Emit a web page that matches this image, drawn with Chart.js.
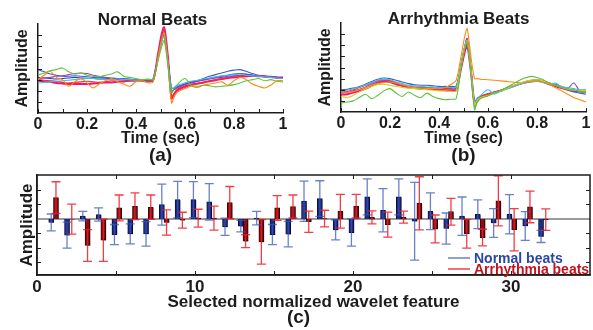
<!DOCTYPE html>
<html>
<head>
<meta charset="utf-8">
<script src="https://cdn.jsdelivr.net/npm/chart.js@4.4.1/dist/chart.umd.min.js"></script>
<style>
    body { margin: 0; background: #fff; }
    #wrap { position: relative; width: 593px; height: 330px; }
    canvas { position: absolute; }
</style>
</head>
<body>
<div id="wrap">
    <canvas id="normalChart" width="296" height="165" style="left:0;top:0;width:296px;height:165px"></canvas>
    <canvas id="arrhChart" width="297" height="165" style="left:296px;top:0;width:297px;height:165px"></canvas>
    <canvas id="featChart" width="593" height="165" style="left:0;top:165px;width:593px;height:165px"></canvas>
</div>
<script>
// time axis of one beat (sec), finer around the QRS spike
const timeSec = [0, 0.025, 0.05, 0.075, 0.1, 0.125, 0.15, 0.175, 0.2, 0.225,
    0.25, 0.275, 0.3, 0.325, 0.35, 0.375, 0.4, 0.425, 0.45, 0.47,
    0.49, 0.505, 0.515, 0.53, 0.545, 0.555, 0.57, 0.6, 0.625, 0.65,
    0.675, 0.7, 0.725, 0.75, 0.775, 0.8, 0.825, 0.85, 0.875, 0.9,
    0.925, 0.95, 0.975, 1.0];
const timeTicks = [0, 0.1, 0.2, 0.3, 0.4, 0.5, 0.6, 0.7, 0.8, 0.9, 1];
const ampTicks = [1, 2, 3, 4, 5, 6, 7];

// (a) normal beats
const normalBlue = [3.9,3.7,3.5,3.4,3.3,3.3,3.35,3.3,3.25,3.2, 3.2,3.15,3.1,3.1,3.05,3.0,3.0,2.95,2.9,2.95, 5.0,6.5,7.1,4.8,2.3,2.2,2.4,2.6,2.8,2.9, 3.1,3.3,3.45,3.6,3.75,3.85,3.9,3.75,3.55,3.4, 3.3,3.2,3.15,3.1];
const normalRed = [3.0,2.95,2.9,2.85,2.75,2.7,2.75,2.8,2.85,2.8, 2.75,2.8,2.9,2.85,2.8,2.9,2.95,2.85,2.8,2.9, 5.2,7.0,7.6,5.0,1.4,1.7,2.0,2.3,2.5,2.6, 2.7,2.9,3.0,3.1,3.2,3.3,3.35,3.4,3.3,3.35, 3.2,3.25,3.15,3.1];
const normalGreen = [3.4,3.6,3.8,3.9,4.05,3.7,3.5,3.6,3.4,3.3, 3.25,3.4,3.5,3.7,3.3,3.2,3.1,3.0,3.05,3.0, 4.7,6.0,6.5,4.3,1.8,2.2,2.6,3.1,2.5,2.4, 2.5,2.45,2.35,2.4,2.45,2.55,2.7,2.9,3.0,3.1, 2.9,3.0,2.85,2.8];
const normalOrange = [3.0,3.4,3.75,3.2,3.0,2.4,2.8,3.1,2.7,2.25, 2.6,2.9,3.1,2.8,2.6,2.4,2.8,2.9,2.7,2.8, 5.0,6.6,7.2,4.6,0.9,1.4,1.9,2.2,2.4,2.3, 2.5,2.6,2.7,2.8,2.5,2.9,3.2,3.0,2.6,2.4, 2.25,2.5,2.9,2.9];
const normalPurple = [3.1,3.15,3.2,3.3,3.35,3.45,3.55,3.6,3.55,3.4, 3.3,3.2,3.15,3.1,3.1,3.05,3.0,3.0,3.0,3.0, 5.0,6.7,7.3,4.9,2.0,2.1,2.3,2.55,2.7,2.85, 2.95,3.05,3.15,3.2,3.3,3.35,3.4,3.45,3.4,3.35, 3.3,3.25,3.2,3.15];
const normalCyan = [2.7,2.75,2.8,2.85,2.9,2.95,3.0,3.05,3.1,3.1, 3.05,3.0,3.0,3.05,3.0,3.0,2.95,3.0,3.0,3.05, 4.9,6.4,6.9,4.6,2.2,2.3,2.5,2.7,2.85,2.95, 3.05,3.15,3.25,3.35,3.4,3.45,3.5,3.4,3.35,3.3, 3.25,3.2,3.15,3.1];
const normalNavy = [3.2,3.15,3.1,3.05,3.1,3.15,3.2,3.15,3.1,3.1, 3.05,3.05,3.1,3.0,3.0,2.95,2.95,2.9,2.9,2.9, 4.9,6.5,7.0,4.7,1.9,2.1,2.3,2.6,2.75,2.85, 3.0,3.1,3.2,3.3,3.4,3.5,3.55,3.5,3.4,3.35, 3.3,3.25,3.2,3.15];
const normalMagenta = [2.9,2.85,2.8,2.7,2.65,2.6,2.6,2.6,2.6,2.65, 2.7,2.75,2.75,2.8,2.85,2.9,2.9,2.95,2.95,3.0, 5.3,7.1,7.7,5.1,1.3,1.7,2.1,2.4,2.55,2.65, 2.75,2.85,2.95,3.05,3.15,3.2,3.25,3.3,3.35,3.3, 3.3,3.25,3.2,3.2];

// (b) arrhythmia beats
const arrhBlue = [2.0,2.05,2.15,2.3,2.5,2.75,2.95,3.05,3.0,2.85, 2.7,2.55,2.45,2.4,2.4,2.35,2.3,2.3,2.3,2.35, 4.3,5.9,6.6,4.0,0.8,1.2,1.4,1.6,1.75,1.9, 2.1,2.3,2.5,2.7,2.85,2.9,2.8,2.6,2.4,2.2, 2.0,1.8,1.7,1.6];
const arrhOrange = [1.7,1.75,1.85,2.0,2.2,2.4,2.55,2.65,2.7,2.6, 2.45,2.3,2.2,2.15,2.1,2.1,2.1,2.2,2.5,2.85, 5.0,6.8,7.5,5.0,3.0,3.0,2.95,2.9,2.85,2.8, 2.75,2.7,2.65,2.7,2.75,2.8,2.7,2.5,2.2,1.9, 1.6,1.3,1.1,0.9];
const arrhGreen = [0.8,0.9,1.0,1.3,1.6,1.2,1.5,1.9,2.1,1.7, 1.4,1.8,1.5,1.3,1.7,1.4,1.2,1.1,1.15,1.2, 4.0,5.7,6.3,3.6,0.2,0.8,1.2,1.45,1.7,1.9, 2.2,2.5,2.8,3.05,3.2,3.1,2.9,2.6,2.4,2.2, 2.1,2.0,1.85,1.7];
const arrhLime = [1.4,1.3,1.5,1.8,2.1,2.3,2.45,2.5,2.4,2.3, 2.2,2.15,2.1,2.05,2.0,1.95,1.9,1.9,1.85,1.9, 4.1,5.8,6.4,3.8,0.6,1.0,1.3,1.5,1.7,1.9, 2.1,2.35,2.55,2.75,2.85,2.9,2.8,2.6,2.4,2.2, 2.05,1.95,1.9,1.9];
const arrhPurple = [1.7,1.75,1.9,2.05,2.25,2.5,2.7,2.85,2.8,2.6, 2.45,2.3,2.2,2.2,2.15,2.15,2.1,2.1,2.05,2.1, 4.3,5.9,6.6,4.0,0.5,0.9,1.3,1.6,1.75,1.9, 2.1,2.3,2.5,2.7,2.8,2.85,2.75,2.6,2.5,2.3, 2.1,2.6,1.9,1.8];
const arrhCyan = [1.9,1.95,2.1,2.25,2.45,2.65,2.85,2.95,2.9,2.7, 2.55,2.4,2.35,2.3,2.25,2.25,2.2,2.2,2.2,2.25, 4.2,5.8,6.4,3.9,0.7,1.2,1.5,2.0,1.6,1.85, 2.05,2.25,2.45,2.6,2.7,2.75,2.65,2.5,2.6,2.3, 2.2,2.1,2.0,2.05];
const arrhRed = [1.8,1.85,2.0,2.2,2.4,2.6,2.8,2.9,2.8,2.6, 2.4,2.3,2.25,2.2,2.2,2.15,2.1,2.1,2.1,2.15, 4.1,5.7,6.3,3.8,0.6,1.0,1.4,1.65,1.8,1.95, 2.15,2.35,2.5,2.65,2.75,2.8,2.75,2.55,2.35,2.2, 2.05,1.95,1.9,1.85];
const arrhMagenta = [1.55,1.6,1.75,1.9,2.1,2.35,2.6,2.75,2.7,2.5, 2.35,2.2,2.15,2.1,2.1,2.05,2.0,1.95,1.9,1.95, 3.9,5.4,6.0,3.7,0.8,1.1,1.35,1.55,1.75,1.9, 2.1,2.3,2.5,2.65,2.75,2.8,2.7,2.5,2.3,2.15, 2.0,1.9,1.85,1.8];

// (c) wavelet features: mean and spread per feature
const featureIdx = [1,2,3,4,5,6,7,8,9,10,11,12,13,14,15,16,17,18,19,20,21,22,23,24,25,26,27,28,29,30,31,32];
const normalMean = [-0.25,-1.13,0.19,0.3,-1.09,-1.04,-1.04,0.99,1.34,1.34,1.18,-0.55,-0.5,0.05,-1.09,-1.06,1.23,1.41,-0.76,-0.95,1.53,0.6,1.53,-0.16,0.53,-0.67,0.19,0.32,-0.28,0.32,-0.49,-1.22];
const normalErr = [0.59,0.9,0.33,0.46,0.7,0.7,0.85,1.42,1.27,1.25,1.27,0.6,0.4,0.47,0.7,0.88,1.4,1.24,0.7,0.95,1.25,1.5,1.25,2.7,1.28,1.08,1.33,1.0,1.0,1.36,1.0,0.42];
const arrhMean = [1.48,-0.02,-1.85,-1.48,0.76,0.88,0.81,-0.25,-0.09,0.05,0.05,1.13,-1.55,-1.6,0.76,0.86,-0.2,0.02,0.53,0.88,0.1,-0.4,0.12,1.08,-0.7,0.5,-1.03,-1.3,1.25,-0.75,0.83,-0.05];
const arrhErr = [1.1,1.04,1.1,1.47,0.9,0.93,0.85,0.88,0.55,0.62,0.83,1.12,0.45,1.55,0.86,0.8,0.74,0.58,1.17,0.82,0.45,0.87,0.42,1.85,0.97,0.93,1.0,0.58,1.74,1.47,1.1,0.75];
const featTicksX = [5, 10, 15, 20, 25, 30];
const featTicksY = [-3, -2, -1, 1, 2];

const FONT = '"Liberation Sans", Arial, sans-serif';
const INK = "#1c1c1c";
Chart.defaults.font.family = FONT;
Chart.defaults.color = INK;

const inwardTicks = {
    id: "inwardTicks",
    afterDraw(chart, args, opts) {
        const { ctx, chartArea: area, scales } = chart;
        const len = opts.length;
        ctx.save();
        ctx.strokeStyle = INK;
        ctx.lineWidth = 1;
        ctx.beginPath();
        opts.xValues.forEach(v => {
            const px = Math.round(scales.x.getPixelForValue(v)) + 0.5;
            ctx.moveTo(px, area.bottom);
            ctx.lineTo(px, area.bottom - len);
            if (opts.box) {
                ctx.moveTo(px, area.top);
                ctx.lineTo(px, area.top + len);
            }
        });
        opts.yValues.forEach(v => {
            const py = Math.round(scales.y.getPixelForValue(v)) + 0.5;
            ctx.moveTo(area.left, py);
            ctx.lineTo(area.left + len, py);
            if (opts.box) {
                ctx.moveTo(area.right, py);
                ctx.lineTo(area.right - len, py);
            }
        });
        ctx.stroke();
        if (opts.box) {
            ctx.lineWidth = 1.5;
            ctx.strokeRect(area.left, area.top, area.right - area.left, area.bottom - area.top);
        }
        ctx.restore();
    },
};

const panelText = {
    id: "panelText",
    afterDraw(chart, args, opts) {
        const { ctx, chartArea: area } = chart;
        const mid = (area.left + area.right) / 2;
        ctx.save();
        ctx.fillStyle = INK;
        ctx.textAlign = "center";
        ctx.textBaseline = "alphabetic";
        if (opts.title) {
            ctx.font = "bold 17px " + FONT;
            ctx.fillText(opts.title, mid + opts.titleShift, area.top + 1);
        }
        ctx.font = "bold 19px " + FONT;
        ctx.fillText(opts.tag, mid + opts.tagShift, opts.tagY);
        ctx.restore();
    },
};

const beatChart = (id, title, tag, traces, pad, yWidth, yTitlePad, titleShift) => {
    new Chart(document.getElementById(id), {
        type: "line",
        data: {
            datasets: traces.map(([label, color, values, width]) => ({
                label,
                data: timeSec.map((t, i) => ({ x: t, y: values[i] })),
                borderColor: color,
                borderWidth: width,
                pointRadius: 0,
                tension: 0.3,
                fill: false,
            })),
        },
        options: {
            responsive: false,
            animation: false,
            layout: { padding: { top: pad.top, right: pad.right, left: 0, bottom: 0 } },
            plugins: {
                legend: { display: false },
                tooltip: { enabled: false },
                inwardTicks: { xValues: timeTicks, yValues: ampTicks, length: 4, box: false },
                panelText: { title, titleShift, tag, tagShift: 0, tagY: 161 },
            },
            scales: {
                x: {
                    type: "linear",
                    min: 0,
                    max: 1,
                    grid: { display: false, drawTicks: false },
                    border: { display: true, color: INK, width: 1.5 },
                    ticks: {
                        stepSize: 0.2,
                        padding: 2,
                        maxRotation: 0,
                        autoSkip: false,
                        font: { size: 16, weight: "bold" },
                        callback: v => String(Number(v.toFixed(1))),
                    },
                    title: { display: true, text: "Time (sec)", font: { size: 16, weight: "bold" }, padding: { top: 0, bottom: 17 } },
                    afterFit(scale) { scale.height = pad.axis; },
                },
                y: {
                    min: 0,
                    max: 8,
                    grid: { display: false, drawTicks: false },
                    border: { display: true, color: INK, width: 1.5 },
                    ticks: { display: false },
                    title: { display: true, text: "Amplitude", font: { size: 16, weight: "bold" }, padding: { top: yTitlePad, bottom: 0 } },
                    afterFit(scale) { scale.width = yWidth; },
                },
            },
        },
        plugins: [inwardTicks, panelText],
    });
};

beatChart("normalChart", "Normal Beats", "(a)", [
    ["green", "#63c23a", normalGreen, 1.1],
    ["orange", "#ff8a14", normalOrange, 1.1],
    ["cyan", "#34c3e6", normalCyan, 1.1],
    ["purple", "#9a3fc6", normalPurple, 1.1],
    ["red", "#ff2a2a", normalRed, 1.1],
    ["navy", "#2c3fa8", normalNavy, 1.1],
    ["blue", "#3a5cd0", normalBlue, 1.1],
    ["magenta", "#f0157c", normalMagenta, 2],
], { top: 24, right: 13, axis: 52 }, 38, 13, -8);

beatChart("arrhChart", "Arrhythmia Beats", "(b)", [
    ["green", "#5cc23a", arrhGreen, 1.1],
    ["lime", "#c9d81e", arrhLime, 1.1],
    ["orange", "#ff8a14", arrhOrange, 1.1],
    ["cyan", "#34c3e6", arrhCyan, 1.1],
    ["red", "#ff2a2a", arrhRed, 1.1],
    ["purple", "#9a3fc6", arrhPurple, 1.1],
    ["blue", "#3a5cd0", arrhBlue, 1.1],
    ["magenta", "#f0157c", arrhMagenta, 2],
], { top: 23, right: 7, axis: 53 }, 45, 20, -5);

// (c) bars with error bars
const barShadow = {
    id: "barShadow",
    beforeDatasetsDraw(chart) {
        const { ctx, chartArea: area, scales: { y } } = chart;
        const py = y.getPixelForValue(0);
        ctx.save();
        ctx.strokeStyle = "#7a7a7a";
        ctx.lineWidth = 1.5;
        ctx.beginPath();
        ctx.moveTo(area.left, py);
        ctx.lineTo(area.right, py);
        ctx.stroke();
        ctx.restore();
    },
    beforeDatasetDraw(chart) {
        const { ctx } = chart;
        ctx.save();
        ctx.shadowColor = "rgba(0,0,0,0.35)";
        ctx.shadowOffsetX = 2;
        ctx.shadowOffsetY = 1;
        ctx.shadowBlur = 1;
    },
    afterDatasetDraw(chart) {
        chart.ctx.restore();
    },
};

const errorBars = {
    id: "errorBars",
    afterDatasetsDraw(chart) {
        const { ctx, scales: { y } } = chart;
        chart.data.datasets.forEach((ds, i) => {
            const meta = chart.getDatasetMeta(i);
            ctx.save();
            ctx.strokeStyle = ds.errorColor;
            ctx.lineWidth = 1.3;
            ctx.beginPath();
            meta.data.forEach((bar, j) => {
                const v = ds.data[j].y;
                const e = ds.errors[j];
                const top = y.getPixelForValue(v + e);
                const bot = y.getPixelForValue(v - e);
                const cx = bar.x;
                ctx.moveTo(cx, top);
                ctx.lineTo(cx, bot);
                ctx.moveTo(cx - 4.5, top);
                ctx.lineTo(cx + 4.5, top);
                ctx.moveTo(cx - 4.5, bot);
                ctx.lineTo(cx + 4.5, bot);
            });
            ctx.stroke();
            ctx.restore();
        });
    },
};

const featLegend = {
    id: "featLegend",
    afterDraw(chart) {
        const { ctx, chartArea: area } = chart;
        ctx.save();
        ctx.font = "bold 14px " + FONT;
        ctx.textAlign = "left";
        ctx.textBaseline = "alphabetic";
        const rows = [17, 6];
        chart.data.datasets.forEach((ds, i) => {
            const ly = area.bottom - rows[i];
            ctx.strokeStyle = ds.errorColor;
            ctx.lineWidth = 1.5;
            ctx.beginPath();
            ctx.moveTo(area.right - 142, ly);
            ctx.lineTo(area.right - 120, ly);
            ctx.stroke();
            ctx.fillStyle = ds.textColor;
            ctx.fillText(ds.label, area.right - 116, ly + 5);
        });
        ctx.restore();
    },
};

new Chart(document.getElementById("featChart"), {
    type: "bar",
    data: {
        datasets: [
            {
                label: "Normal beats",
                data: featureIdx.map((f, i) => ({ x: f - 0.1, y: normalMean[i] })),
                errors: normalErr,
                backgroundColor: "#1f2c86",
                borderColor: "#0b1040",
                borderWidth: 1,
                errorColor: "rgba(55,85,185,0.75)",
                textColor: "#2846a8",
            },
            {
                label: "Arrhythmia beats",
                data: featureIdx.map((f, i) => ({ x: f + 0.2, y: arrhMean[i] })),
                errors: arrhErr,
                backgroundColor: "#8c0d12",
                borderColor: "#3a0508",
                borderWidth: 1,
                errorColor: "rgba(238,28,36,0.85)",
                textColor: "#c4121c",
            },
        ],
    },
    options: {
        responsive: false,
        animation: false,
        layout: { padding: { top: 10, right: 3, left: 0, bottom: 0 } },
        datasets: { bar: { grouped: false, barThickness: 5 } },
        plugins: {
            legend: { display: false },
            tooltip: { enabled: false },
            inwardTicks: { xValues: featTicksX, yValues: featTicksY, length: 4, box: true },
            panelText: { title: "", titleShift: 0, tag: "(c)", tagShift: -15, tagY: 158 },
        },
        scales: {
            x: {
                type: "linear",
                min: 0,
                max: 35,
                offset: false,
                grid: { display: false, drawTicks: false, offset: false },
                border: { display: true, color: INK, width: 1.5 },
                ticks: {
                    stepSize: 10,
                    padding: 2,
                    maxRotation: 0,
                    autoSkip: false,
                    font: { size: 17, weight: "bold" },
                    callback: v => (v % 10 === 0 ? v : ""),
                },
                title: { display: true, text: "Selected normalized wavelet feature", font: { size: 17, weight: "bold" }, padding: { top: 0, bottom: 17 } },
                afterFit(scale) { scale.height = 55; },
            },
            y: {
                min: -3.9,
                max: 3.05,
                grid: { display: false, drawTicks: false },
                border: { display: true, color: INK, width: 1.5 },
                ticks: { display: false },
                title: { display: true, text: "Amplitude", font: { size: 17, weight: "bold" }, padding: { top: 17, bottom: 0 } },
                afterFit(scale) { scale.width = 37; },
            },
        },
    },
    plugins: [barShadow, errorBars, inwardTicks, panelText, featLegend],
});
</script>
</body>
</html>
